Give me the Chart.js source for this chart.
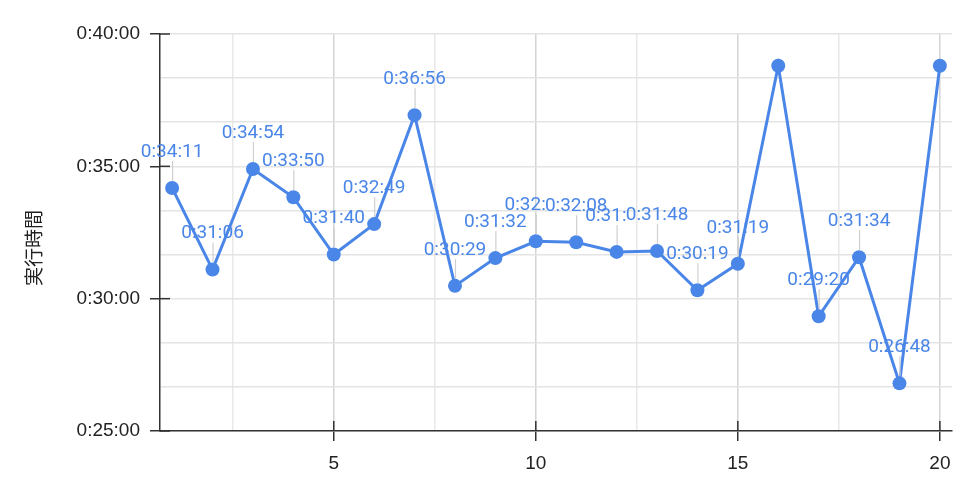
<!DOCTYPE html>
<html>
<head>
<meta charset="utf-8">
<script src="https://cdn.jsdelivr.net/npm/chart.js@4.4.1/dist/chart.umd.min.js"></script>
<style>
  html, body { margin: 0; padding: 0; background: #fff; }
  #wrap { width: 968px; height: 480px; }
</style>
</head>
<body>
<div id="wrap"><canvas id="myChart" width="968" height="480"></canvas></div>
<script>
// run number and elapsed time (h:mm:ss)
var runs = [1, 2, 3, 4, 5, 6, 7, 8, 9, 10, 11, 12, 13, 14, 15, 16, 17, 18, 19, 20];
var times = ['0:34:11', '0:31:06', '0:34:54', '0:33:50', '0:31:40', '0:32:49', '0:36:56', '0:30:29', '0:31:32', '0:32:10',
             '0:32:08', '0:31:46', '0:31:48', '0:30:19', '0:31:19', '0:38:48', '0:29:20', '0:31:34', '0:26:48', '0:38:48'];
// which points carry an annotation
var showLabel = [1, 1, 1, 1, 1, 1, 1, 1, 1, 1, 1, 1, 1, 1, 1, 0, 1, 1, 1, 0];
var yTicks = [1500, 1600, 1700, 1800, 1900, 2000, 2100, 2200, 2300, 2400];
var xTicks = [2.5, 5, 7.5, 10, 12.5, 15, 17.5, 20];
var yTitle = '実行時間';

var blue = '#4a86e8';

function toSec(t) {
    var p = t.split(':');
    return (+p[0]) * 3600 + (+p[1]) * 60 + (+p[2]);
}
function fmt(s) {
    var h = Math.floor(s / 3600), m = Math.floor((s % 3600) / 60), sec = s % 60;
    return h + ':' + (m < 10 ? '0' : '') + m + ':' + (sec < 10 ? '0' : '') + sec;
}

var points = runs.map(function (r, i) { return { x: r, y: toSec(times[i]) }; });

// annotations above points, with thin stems; a label gets cut where the next one covers it
var labelPlugin = {
    id: 'labels',
    afterDatasetsDraw: function (chart) {
        var c = chart.ctx;
        var meta = chart.getDatasetMeta(0);
        c.save();
        c.font = '19px Roboto, "Noto Sans", sans-serif';
        var boxes = [];
        meta.data.forEach(function (pt, i) {
            if (!showLabel[i]) return;
            var txt = times[i];
            var w = c.measureText(txt).width;
            boxes.push({ i: i, x: pt.x, py: pt.y, y: pt.y - 36, w: w, txt: txt });
        });
        // stems
        c.strokeStyle = '#cfcfcf';
        c.lineWidth = 1.2;
        boxes.forEach(function (b) {
            c.beginPath();
            c.moveTo(b.x + 0.5, b.py - 7);
            c.lineTo(b.x + 0.5, b.y + 9);
            c.stroke();
        });
        c.fillStyle = blue;
        c.textAlign = 'center';
        c.textBaseline = 'middle';
        boxes.forEach(function (b, k) {
            var nx = boxes[k + 1];
            c.save();
            if (nx && Math.abs(nx.y - b.y) < 5 && nx.x - nx.w / 2 < b.x + b.w / 2) {
                c.beginPath();
                c.rect(0, 0, nx.x - nx.w / 2, chart.height);
                c.clip();
            }
            c.fillText(b.txt, b.x, b.y);
            c.restore();
        });
        c.restore();
    },
    afterDraw: function (chart) {
        var c = chart.ctx, a = chart.chartArea;
        var ys = chart.scales.y, xs = chart.scales.x;
        c.save();
        // inner halves of the major tick marks
        c.strokeStyle = '#333';
        c.lineWidth = 1.5;
        yTicks.forEach(function (v) {
            if (v % 300 !== 0) return;
            var py = ys.getPixelForValue(v);
            c.beginPath(); c.moveTo(a.left, py); c.lineTo(a.left + 10, py); c.stroke();
        });
        xTicks.forEach(function (v) {
            if (v % 5 !== 0) return;
            var px = xs.getPixelForValue(v);
            c.beginPath(); c.moveTo(px, a.bottom); c.lineTo(px, a.bottom - 10); c.stroke();
        });
        // axis title
        c.translate(34, 248);
        c.rotate(-Math.PI / 2);
        c.font = '19px "Noto Sans CJK JP", sans-serif';
        c.fillStyle = '#222';
        c.textAlign = 'center';
        c.textBaseline = 'middle';
        c.fillText(yTitle, 0, 0);
        c.restore();
    }
};

var ctx = document.getElementById('myChart').getContext('2d');
var chart = new Chart(ctx, {
    type: 'line',
    data: {
        datasets: [{
            data: points,
            borderColor: blue,
            backgroundColor: blue,
            borderWidth: 3,
            pointRadius: 7,
            pointHoverRadius: 7,
            pointBorderWidth: 0,
            tension: 0
        }]
    },
    options: {
        responsive: false,
        animation: false,
        layout: { padding: { top: 34, right: 16, bottom: 0, left: 0 } },
        plugins: {
            legend: { display: false },
            tooltip: { enabled: false }
        },
        scales: {
            x: {
                type: 'linear',
                min: 0.7,
                max: 20.3,
                afterBuildTicks: function (s) { s.ticks = xTicks.map(function (v) { return { value: v }; }); },
                afterFit: function (s) { s.height = 49; },
                grid: {
                    color: function (c) { return c.tick && c.tick.value % 5 === 0 ? '#d4d4d4' : '#e8e8e8'; },
                    lineWidth: 1.5,
                    tickLength: 10,
                    tickColor: function (c) { return c.tick && c.tick.value % 5 === 0 ? '#333' : 'rgba(0,0,0,0)'; },
                    tickWidth: 1.5
                },
                border: { color: '#333', width: 1.5 },
                ticks: {
                    autoSkip: false,
                    maxRotation: 0,
                    padding: 11,
                    color: '#222',
                    font: { family: '"Liberation Sans", Arial, sans-serif', size: 19 },
                    callback: function (v) { return v % 5 === 0 ? String(v) : ''; }
                }
            },
            y: {
                min: 1500,
                max: 2400,
                afterBuildTicks: function (s) { s.ticks = yTicks.map(function (v) { return { value: v }; }); },
                afterFit: function (s) { s.width = 160; },
                grid: {
                    color: '#e4e4e4',
                    lineWidth: 1.5,
                    tickLength: 10,
                    tickColor: function (c) { return c.tick && c.tick.value % 300 === 0 ? '#333' : 'rgba(0,0,0,0)'; },
                    tickWidth: 1.5
                },
                border: { color: '#333', width: 1.5 },
                ticks: {
                    autoSkip: false,
                    padding: 10,
                    color: '#222',
                    font: { family: '"Liberation Sans", Arial, sans-serif', size: 19 },
                    callback: function (v) { return v % 300 === 0 ? fmt(v) : ''; }
                }
            }
        }
    },
    plugins: [labelPlugin]
});
</script>
</body>
</html>
